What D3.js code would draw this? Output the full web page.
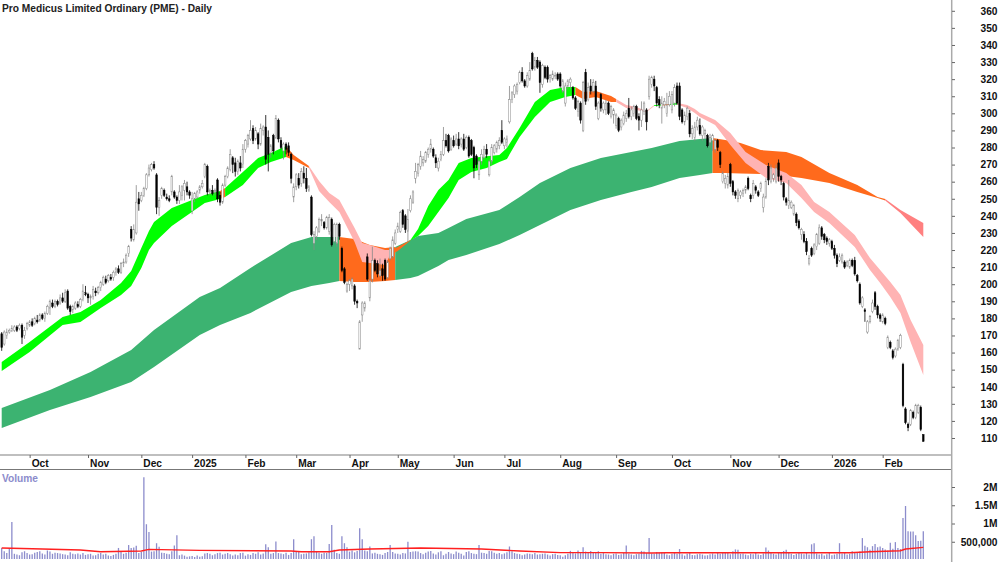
<!DOCTYPE html>
<html>
<head>
<meta charset="utf-8">
<script src="https://cdn.jsdelivr.net/npm/d3@7"></script>
<style>
  html, body { margin: 0; padding: 0; background: #fff; }
  svg { display: block; }
  text { font-family: "Liberation Sans", Arial, sans-serif; font-size: 10.2px; font-weight: bold; }
</style>
</head>
<body>
<svg id="main" width="1000" height="562"></svg>
<script>
const title = "Pro Medicus Limited Ordinary (PME) - Daily";

// Daily candles
const opens = [
  171,165,170,172,173,173,175,174,176,170,
  174,176,178,177,179,179,182,180,183,186,
  189,187,190,189,192,190,196,187,185,186,
  188,187,191,195,194,192,193,196,195,198,
  200,203,202,204,204,207,209,207,212,213,
  218,232,226,230,250,249,252,256,264,267,
  270,264,245,252,255,251,250,254,254,251,
  249,252,255,257,254,243,250,251,255,257,
  263,269,254,255,254,261,252,248,258,263,
  267,274,271,266,271,270,279,282,285,291,
  285,288,282,290,292,286,277,287,286,296,
  284,278,282,281,276,251,257,262,259,265,
  262,255,251,224,228,231,237,236,233,231,
  238,225,224,235,221,209,196,200,199,199,
  190,162,182,186,216,192,203,214,212,205,
  209,214,204,215,216,224,232,231,243,240,
  231,243,248,262,265,269,271,272,276,279,
  279,274,268,273,276,284,287,279,284,282,
  285,282,285,280,286,284,280,275,264,272,
  274,279,264,272,277,279,281,290,281,283,
  295,308,311,313,318,324,319,316,320,335,
  327,331,330,317,327,327,321,320,322,323,
  323,313,306,316,318,315,309,301,306,290,
  324,308,316,313,316,297,311,302,302,306,
  298,299,293,297,292,294,297,303,298,300,
  304,298,296,301,302,310,317,320,315,308,
  303,305,300,305,302,306,316,316,302,295,
  298,300,288,286,292,293,287,288,287,283,
  284,279,284,277,260,259,258,270,260,254,
  250,252,253,255,262,252,252,257,254,256,
  245,251,269,260,262,260,271,263,259,250,
  246,245,241,241,237,229,229,225,212,221,
  218,222,224,233,229,227,224,225,221,217,
  214,213,213,211,210,214,214,205,200,187,
  185,172,178,184,195,187,182,178,180,163,
  166,161,158,162,163,153,127,118,118,125,
  122,125,128,112
];
const closes = [
  163,172,172,173,174,175,173,176,169,173,
  177,178,176,180,178,182,180,183,187,190,
  187,190,188,192,190,195,186,184,187,189,
  187,191,196,194,192,193,197,195,198,201,
  204,201,205,203,207,209,207,212,213,217,
  222,227,232,248,247,252,256,264,268,270,
  268,245,249,256,252,250,249,263,251,249,
  254,257,259,254,252,250,253,254,257,259,
  270,254,255,253,255,250,248,258,263,268,
  276,270,266,272,268,279,284,287,290,284,
  290,282,291,292,273,276,281,278,297,285,
  280,282,279,277,262,257,264,258,266,262,
  256,257,229,229,233,238,238,233,239,239,
  223,235,235,228,208,201,200,202,203,190,
  189,178,189,189,203,202,214,208,206,208,
  205,203,213,221,226,230,234,242,235,232,
  238,250,254,266,270,275,273,277,279,282,
  275,271,272,276,284,281,278,285,281,285,
  281,285,279,286,275,276,268,270,272,276,
  279,276,272,280,281,283,284,283,285,285,
  308,312,316,317,324,319,316,322,325,326,
  331,327,318,328,321,320,322,323,322,320,
  316,319,316,319,320,309,303,307,296,318,
  307,315,313,318,304,306,303,306,306,300,
  304,302,299,290,296,299,300,298,302,304,
  297,296,302,306,295,320,321,316,306,305,
  306,307,305,310,311,315,306,298,295,299,
  303,288,291,292,296,288,292,290,281,286,
  287,284,280,270,265,262,263,259,254,252,
  255,254,255,257,256,250,259,255,252,259,
  251,260,261,268,264,268,263,261,251,248,
  249,248,246,236,233,232,225,219,215,217,
  223,229,233,228,226,225,226,221,217,212,
  216,217,210,213,214,211,206,202,189,192,
  184,178,181,189,187,182,180,182,177,169,
  163,157,162,167,170,129,119,116,126,122,
  129,129,115,108
];
const highs = [
  172,173,174,174,176,176,176,177,177,175,
  178,179,180,181,182,183,183,184,188,191,
  191,191,191,194,195,197,197,188,188,190,
  190,192,200,199,195,194,199,198,199,202,
  205,205,206,206,208,210,211,213,215,218,
  223,234,235,258,254,254,257,265,270,271,
  272,265,251,257,256,253,252,264,255,252,
  258,258,261,260,255,254,254,255,258,261,
  271,270,256,258,256,262,254,259,264,269,
  279,275,274,273,275,282,285,288,296,293,
  292,289,294,293,299,290,282,288,299,297,
  286,283,283,283,277,259,265,265,268,269,
  268,258,252,231,234,239,241,237,240,241,
  239,236,236,236,222,210,201,203,204,200,
  191,179,190,190,218,203,222,215,214,215,
  212,215,214,222,228,232,236,243,244,241,
  244,252,255,271,271,278,275,278,280,285,
  280,276,274,278,292,288,288,286,287,288,
  289,286,288,287,287,285,281,276,273,279,
  281,282,273,282,282,284,286,296,286,287,
  316,313,317,318,325,327,320,324,330,336,
  333,333,331,329,328,328,323,325,324,324,
  324,320,318,320,321,316,310,308,307,319,
  326,318,320,320,319,307,312,307,308,307,
  305,303,300,298,297,301,302,309,304,305,
  305,300,307,307,303,322,322,322,316,310,
  310,309,312,313,313,317,318,318,303,301,
  304,302,293,295,298,297,293,291,288,288,
  288,285,285,278,266,264,265,271,261,255,
  256,255,256,258,263,253,261,258,255,260,
  253,262,271,270,265,270,273,264,260,251,
  261,249,247,242,238,233,231,227,217,222,
  224,230,235,234,230,228,227,226,223,218,
  218,218,214,214,215,215,216,206,201,193,
  186,179,182,191,196,188,183,183,181,170,
  167,162,163,168,171,154,128,119,127,126,
  130,130,129,112
];
const lows = [
  161,164,168,171,172,172,172,173,165,168,
  173,175,175,176,177,178,179,178,182,182,
  186,186,187,188,189,189,185,182,183,185,
  186,186,190,193,189,188,191,193,194,196,
  199,200,201,202,202,205,206,206,210,212,
  216,225,225,229,243,248,251,255,263,266,
  267,241,240,250,251,249,248,252,250,247,
  247,249,249,252,250,241,248,250,253,256,
  262,252,252,252,252,248,246,247,257,262,
  266,265,263,264,266,268,277,280,284,282,
  284,279,281,287,270,266,274,276,285,283,
  279,273,276,275,259,248,255,256,257,259,
  254,254,228,220,226,230,234,232,232,229,
  222,224,222,226,207,200,195,196,197,188,
  186,162,178,184,202,190,201,207,204,204,
  202,202,203,214,215,223,230,230,233,230,
  225,242,247,259,263,267,269,271,274,277,
  274,268,266,272,275,280,277,278,280,281,
  279,280,278,279,274,275,262,268,261,270,
  273,274,263,270,276,277,279,282,279,280,
  294,306,309,311,317,318,315,315,319,325,
  325,326,312,315,320,318,318,319,320,319,
  315,312,304,314,314,308,302,298,294,289,
  305,307,311,312,302,296,301,300,299,299,
  297,294,291,289,290,293,295,297,296,298,
  296,290,292,299,290,308,315,313,304,303,
  294,303,298,304,300,304,305,296,294,293,
  296,286,285,284,290,287,284,285,280,280,
  278,277,278,268,259,256,256,257,252,250,
  248,250,251,253,255,248,250,253,251,254,
  242,250,258,259,260,259,260,258,249,246,
  244,244,240,234,232,226,224,217,211,216,
  217,220,223,226,224,223,222,220,215,210,
  213,212,209,210,209,210,205,201,188,186,
  178,171,177,183,185,180,178,177,176,162,
  162,156,157,161,162,128,118,114,117,121,
  121,124,114,108
];
const volumes = [
  330,240,190,330,1040,170,150,130,210,240,
  190,150,160,200,220,240,180,150,260,230,
  170,200,190,180,160,150,130,210,170,160,
  180,150,190,140,160,170,120,130,170,190,
  150,170,120,110,140,170,330,220,170,200,
  410,330,340,390,190,220,2270,980,770,230,
  240,460,360,200,190,170,160,240,400,680,
  130,150,120,90,100,110,80,120,90,100,
  180,190,170,130,160,190,200,150,170,190,
  160,120,150,130,190,200,120,160,140,190,
  170,210,150,180,430,350,170,190,510,190,
  180,160,200,140,190,570,240,230,160,170,
  180,210,570,650,240,200,170,200,190,440,
  960,280,190,170,650,460,350,230,260,210,
  250,870,570,260,240,370,180,200,170,160,
  140,190,220,410,220,180,170,150,190,180,
  500,220,230,240,230,190,160,200,230,250,
  180,150,210,240,130,170,220,180,160,230,
  200,170,120,220,240,190,170,160,410,200,
  190,170,250,240,200,170,190,160,180,210,
  370,240,190,170,160,130,150,180,170,160,
  190,150,160,170,180,150,120,160,170,140,
  130,90,130,170,250,210,180,260,190,350,
  230,190,250,220,200,240,170,190,160,150,
  130,170,180,140,160,190,400,170,150,130,
  160,170,250,230,190,600,180,170,220,200,
  210,190,150,130,170,210,170,300,160,120,
  170,190,140,130,160,170,150,120,130,160,
  180,150,200,170,190,220,210,160,240,290,
  280,170,180,150,130,170,160,190,150,140,
  180,340,260,190,170,150,190,220,250,280,
  210,170,140,170,190,180,160,200,150,430,
  460,180,150,170,120,160,200,130,150,170,
  460,180,200,150,170,240,210,190,230,600,
  390,350,280,380,440,350,370,330,290,260,
  470,310,490,330,300,1150,1480,790,780,780,
  680,520,530,790
];

// Volume average, day index and value in thousands
const volAvgDay = [0,16,31,39,55,58,78,114,118,129,133,145,165,189,204,220,236,256,262,334,342,354,356,363];
const volAvg = [328,300,273,227,246,292,265,246,227,227,273,300,328,300,246,202,202,191,199,199,227,254,300,347];

// Short term band, read at these day indexes
const fastDay = [0,11,24,31,39,47,51,55,58,60,67,80,86,88,95,101,106,112,115,121,125,129,133,139,142,145,151,153,156,161,164,168,172,176,180,185,191,196,199,204,210,216,222,226,229,234,240,242,246,250,254,257,260,263,266,270,273,275,281,287,293,301,309,315,320,326,336,342,346,350,354,358,363];
const fastTop = [154.5,166.2,180.8,183.7,190.8,200.7,207.7,221.2,231.1,236.4,244.6,252.2,254.5,256.3,265.7,273.9,276.8,280.9,275.6,269.2,260.4,253.4,249.3,232.9,224.1,223,220,220,221.8,225.9,232.3,245.8,255.1,261,270.9,273.9,274.9,275.6,279.7,291.4,306.6,313.6,315.4,315.4,312.5,313.1,310.1,308.4,304.9,303.7,301.4,304.9,305.2,305.4,306,304.9,302.5,300.2,296.1,288.5,277.4,269.8,265.1,258.1,248.1,242.3,228.8,215.3,208.3,201.3,193.7,179.1,164.4];
const fastBottom = [149.2,160.3,176.1,177.9,186.1,193.7,199,209.5,220,224.1,234.1,247.5,249.9,251,258.1,268,271.5,274.4,272.7,268,254.5,248.1,242.3,224.7,213,212.4,211.2,217.1,219.4,225.6,228.2,234.1,242.3,250.4,261,265.7,268,271.5,273.3,286.1,297.8,306.6,309.5,310.7,308.4,309.5,306.6,306.6,303.1,301.9,300.8,304.3,304.6,304.9,305.2,303.1,300.2,297.8,293.2,281.5,271,262.2,259.2,250.4,242.3,235.8,221.8,208.3,200.7,192.5,183.2,166.2,146.9];

// Long term band
const slowDay = [0,19,35,51,60,78,86,98,114,122,129,133,139,145,151,155,161,164,172,176,183,196,204,212,224,236,248,256,267,275,280,285,291,299,309,315,326,337,345,348,354,363];
const slowTop = [127.6,138.1,148.6,161.5,173.2,192.5,197.8,209.5,224.1,227.6,227.6,227.6,226.5,223,221.2,221.8,225.9,228.2,230,232.9,238.2,243.4,251,259.2,268,273.9,277.4,279.7,283.8,285,285.6,284.4,282.6,278.5,277.4,274.4,265.1,258.1,251,249.9,243.4,235.8];
const slowBottom = [115.9,126.4,134,142.8,151.6,170.3,176.1,183.2,195.4,199,200.7,201.9,201.3,201.3,201.9,202.5,203.6,204.8,210.7,214.2,217.1,223.5,228.8,234.6,243.4,249.3,254,256.9,262.2,263.9,265.1,265.1,264.8,264.5,263.3,262.2,259.2,254,250.4,249,241.7,227.6];

// Where each band changes colour
const green = "#00ff00", seaGreen = "#3cb371", orange = "#ff6a1c", pink = "#ffb3b3", salmon = "#ff8080";
const fastBreaks = [0,86,88,112,121,153,161,226,242,257,260,263,266,363];
const fastColors = [green,orange,green,orange,pink,orange,green,orange,pink,green,orange,green,pink];
const slowBreaks = [0,133,155,280,348,363];
const slowColors = [seaGreen,orange,seaGreen,orange,salmon];

const monthLabels = ["Oct","Nov","Dec","2025","Feb","Mar","Apr","May","Jun","Jul","Aug","Sep","Oct","Nov","Dec","2026","Feb"];
const monthStarts = [11,34,55,75,96,116,137,156,178,198,220,242,264,287,306,327,347];
const priceTicks = d3.range(110, 361, 10);
const volumeTicks = [500000,1000000,1500000,2000000];
const volumeTickLabels = ["500,000","1M","1.5M","2M"];

const days = d3.range(closes.length);

const x = d3.scaleLinear().domain([0, 363]).range([1.7, 923.3]);
const y = d3.scaleLinear().domain([110, 360]).range([438, 10.8]);
const yVol = d3.scaleLinear().domain([0, 2000000]).range([560, 487]);

const svg = d3.select("#main");

// Bands, long term first so the short term one sits on top
function drawBand(dayList, top, bottom, breaks, colors) {
    const area = d3.area()
        .x(d => x(d.day))
        .y0(d => y(d.bottom))
        .y1(d => y(d.top));
    const knots = dayList.map((day, i) => ({ day, top: top[i], bottom: bottom[i] }));
    colors.forEach((color, i) => {
        const part = knots.filter(k => k.day >= breaks[i] && k.day <= breaks[i + 1]);
        svg.append("path").attr("d", area(part)).attr("fill", color);
    });
}
drawBand(slowDay, slowTop, slowBottom, slowBreaks, slowColors);
drawBand(fastDay, fastTop, fastBottom, fastBreaks, fastColors);

// Candles
const candle = svg.selectAll(".candle")
    .data(days)
    .enter()
    .append("g")
    .classed("candle", true);

candle.append("line")
    .attr("x1", d => x(d))
    .attr("x2", d => x(d))
    .attr("y1", d => y(highs[d]))
    .attr("y2", d => y(lows[d]))
    .attr("stroke", d => closes[d] >= opens[d] ? "#888" : "#000")
    .attr("stroke-width", 0.8);

candle.append("rect")
    .attr("x", d => x(d) - 0.8)
    .attr("width", 1.6)
    .attr("y", d => y(Math.max(opens[d], closes[d])))
    .attr("height", d => Math.max(1, Math.abs(y(opens[d]) - y(closes[d]))))
    .attr("fill", d => closes[d] >= opens[d] ? "#fff" : "#000")
    .attr("stroke", d => closes[d] >= opens[d] ? "#888" : "#000")
    .attr("stroke-width", 0.5);

// Volume
svg.selectAll(".vol")
    .data(days)
    .enter()
    .append("line")
    .classed("vol", true)
    .attr("x1", d => x(d))
    .attr("x2", d => x(d))
    .attr("y1", yVol(0) - 1)
    .attr("y2", d => yVol(volumes[d] * 1000))
    .attr("stroke", "#8c8ccc")
    .attr("stroke-width", 1.3);

svg.append("path")
    .attr("d", d3.line()
        .x((d, i) => x(volAvgDay[i]))
        .y(d => yVol(d * 1000))(volAvg))
    .attr("fill", "none")
    .attr("stroke", "#ff2020")
    .attr("stroke-width", 1.4);

// Panel borders
svg.append("line").attr("x1", 0).attr("x2", 952).attr("y1", 455).attr("y2", 455).attr("stroke", "#aaa").attr("stroke-width", 1.5);
svg.append("line").attr("x1", 0).attr("x2", 952).attr("y1", 469.5).attr("y2", 469.5).attr("stroke", "#777").attr("stroke-width", 1);
svg.append("line").attr("x1", 951.7).attr("x2", 951.7).attr("y1", 0).attr("y2", 562).attr("stroke", "#aaa").attr("stroke-width", 1.5);

// Axes
const timeAxis = d3.axisBottom(x)
    .tickValues(monthStarts)
    .tickFormat((d, i) => monthLabels[i])
    .tickSize(3);
const timeG = svg.append("g").attr("transform", "translate(0,455)").call(timeAxis);
timeG.select(".domain").remove();
timeG.selectAll("line").attr("stroke", "#666");
timeG.selectAll("text")
    .attr("text-anchor", "start")
    .attr("x", 1.5)
    .attr("y", 8)
    .attr("dy", "0.35em")
    .attr("fill", "#111")
    .style("font-size", "10.2px");

const priceAxis = d3.axisRight(y).tickValues(priceTicks).tickSize(3);
const priceG = svg.append("g").attr("transform", "translate(952,0)").call(priceAxis);
priceG.select(".domain").remove();
priceG.selectAll("line").attr("stroke", "#666");
priceG.selectAll("text")
    .attr("text-anchor", "end")
    .attr("x", 45.5)
    .attr("fill", "#111")
    .style("font-size", "10.2px");

const volAxis = d3.axisRight(yVol)
    .tickValues(volumeTicks)
    .tickFormat((d, i) => volumeTickLabels[i])
    .tickSize(3);
const volG = svg.append("g").attr("transform", "translate(952,0)").call(volAxis);
volG.select(".domain").remove();
volG.selectAll("line").attr("stroke", "#666");
volG.selectAll("text")
    .attr("text-anchor", "end")
    .attr("x", 45.5)
    .attr("fill", "#111")
    .style("font-size", "10.2px");

svg.append("text").attr("x", 2).attr("y", 12).attr("fill", "#222").text(title);
svg.append("text").attr("x", 2).attr("y", 482).attr("fill", "#8c8ccc").text("Volume");
</script>
</body>
</html>
